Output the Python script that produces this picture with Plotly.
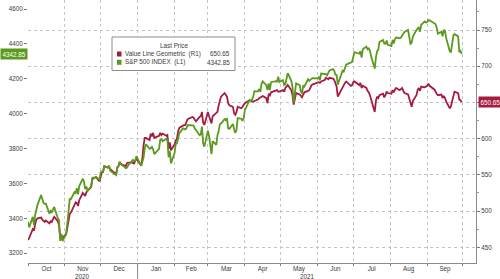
import pandas as pd
import plotly.graph_objects as go

# ---------------- data ----------------
holidays = ["2020-11-26", "2020-12-25", "2021-01-01", "2021-01-18", "2021-02-15",
            "2021-04-02", "2021-05-31", "2021-07-05", "2021-09-06"]
dates = [d for d in pd.bdate_range("2020-10-01", "2021-09-30")
         if d.strftime("%Y-%m-%d") not in holidays]

sp500 = [
    # Oct 2020
    3380.80, 3348.42, 3408.60, 3360.97, 3419.44, 3446.83, 3477.14, 3534.22, 3511.93, 3488.67, 3483.34,
    3483.81, 3426.92, 3443.12, 3435.56, 3453.49, 3465.39, 3400.97, 3390.68, 3271.03, 3310.11, 3269.96,
    # Nov
    3310.24, 3369.16, 3443.44, 3510.45, 3509.44, 3550.50, 3545.53, 3572.66, 3537.01, 3585.15,
    3626.91, 3609.53, 3567.79, 3581.87, 3557.54, 3577.59, 3635.41, 3629.65, 3638.35, 3621.63,
    # Dec
    3662.45, 3669.01, 3666.72, 3699.12, 3691.96, 3702.25, 3672.82, 3668.10, 3663.46, 3647.49, 3694.62,
    3701.17, 3722.48, 3709.41, 3694.92, 3687.26, 3690.01, 3703.06, 3735.36, 3727.04, 3732.04, 3756.07,
    # Jan 2021
    3700.65, 3726.86, 3748.14, 3803.79, 3824.68, 3799.61, 3801.19, 3809.84, 3795.54, 3768.25,
    3798.91, 3851.85, 3853.07, 3841.47, 3855.36, 3849.62, 3750.77, 3787.38, 3714.24,
    # Feb
    3773.86, 3826.31, 3830.17, 3871.74, 3886.83, 3915.59, 3911.23, 3909.88, 3916.38, 3934.83,
    3932.59, 3931.33, 3913.97, 3906.71, 3876.50, 3881.37, 3925.43, 3829.34, 3811.15,
    # Mar
    3901.82, 3870.29, 3819.72, 3768.47, 3841.94, 3821.35, 3875.44, 3898.81, 3939.34, 3943.34, 3968.94,
    3962.71, 3974.12, 3915.46, 3913.10, 3940.59, 3910.52, 3889.14, 3909.52, 3974.54, 3971.09, 3958.55,
    3972.89,
    # Apr
    4019.87, 4077.91, 4073.94, 4079.95, 4097.17, 4128.80, 4127.99, 4141.59, 4124.66, 4170.42, 4185.47,
    4163.26, 4134.94, 4173.42, 4134.98, 4180.17, 4187.62, 4186.72, 4183.18, 4211.47, 4181.17,
    # May
    4192.66, 4164.66, 4167.59, 4201.62, 4232.60, 4188.43, 4152.10, 4063.04, 4112.50, 4173.85,
    4163.29, 4127.83, 4115.68, 4159.12, 4155.86, 4197.05, 4188.13, 4195.99, 4200.88, 4204.11,
    # Jun
    4202.04, 4208.12, 4192.85, 4229.89, 4226.52, 4227.26, 4219.55, 4239.18, 4247.44, 4255.15, 4246.59,
    4223.70, 4221.86, 4166.45, 4224.79, 4246.44, 4241.84, 4266.49, 4280.70, 4290.61, 4291.80, 4297.50,
    # Jul
    4319.94, 4352.34, 4343.54, 4358.13, 4320.82, 4369.55, 4384.63, 4369.21, 4374.30, 4360.03, 4327.16,
    4258.49, 4323.06, 4358.69, 4367.48, 4411.79, 4422.30, 4401.46, 4400.64, 4419.15, 4395.26,
    # Aug
    4387.16, 4423.15, 4402.66, 4429.10, 4436.52, 4432.35, 4436.75, 4447.70, 4460.83, 4468.00, 4479.71,
    4448.08, 4400.27, 4405.80, 4441.67, 4479.53, 4486.23, 4496.19, 4470.00, 4509.37, 4528.79, 4522.68,
    # Sep
    4524.09, 4536.95, 4535.43, 4520.03, 4514.07, 4493.28, 4458.58, 4468.73, 4443.05, 4480.70, 4473.75,
    4432.99, 4357.73, 4354.19, 4395.64, 4448.98, 4455.48, 4443.11, 4352.63, 4359.46, 4342.85,
]

value_line = [
    # Oct 2020
    460, 463, 475, 473, 482, 488, 490, 491, 488, 486, 485, 487, 483, 486, 485, 489, 492, 486, 481, 464, 467, 463,
    # Nov
    468, 477, 486, 496, 498, 510, 512, 511, 507, 515, 525, 523, 521, 526, 528, 534, 544, 545, 547, 541,
    # Dec
    550, 554, 554, 562, 560, 561, 558, 557, 555, 551, 560, 562, 568, 565, 563, 562, 566, 567, 567, 565, 570, 572,
    # Jan 2021
    563, 573, 591, 601, 601, 598, 607, 603, 608, 601, 604, 608, 605, 607, 604, 605, 586, 595, 584,
    # Feb
    592, 597, 600, 610, 615, 618, 619, 619, 623, 627, 630, 629, 626, 624, 630, 631, 637, 622, 619,
    # Mar
    637, 631, 626, 621, 631, 635, 637, 646, 653, 658, 663, 660, 658, 649, 646, 644, 635, 633, 637, 644, 642, 644, 646,
    # Apr
    649, 653, 652, 651, 651, 652, 654, 656, 657, 658, 659, 656, 649, 662, 660, 664, 666, 667, 667, 665, 665,
    # May
    667, 665, 670, 672, 674, 667, 660, 647, 657, 663, 661, 659, 657, 661, 664, 666, 667, 670, 674, 675,
    # Jun
    677, 678, 677, 679, 681, 684, 683, 682, 684, 683, 681, 677, 672, 658, 668, 670, 673, 677, 679, 675, 673, 674,
    # Jul
    678, 679, 674, 677, 670, 673, 670, 666, 664, 660, 655, 637, 652, 658, 656, 660, 662, 657, 660, 665, 663,
    # Aug
    662, 667, 664, 668, 670, 667, 668, 670, 666, 663, 661, 655, 648, 644, 652, 660, 667, 670, 666, 672, 671, 672,
    # Sep
    673, 676, 673, 668, 664, 662, 660, 661, 656, 659, 656, 651, 642, 645, 652, 661, 665, 663, 654, 653, 650.65,
]

left_ticks = [3200, 3400, 3600, 3800, 4000, 4200, 4400, 4600]
right_ticks = [450, 500, 550, 600, 650, 700, 750]
right_tick_text = ["450", "500", "550", "600", "", "700", "750"]  # 650 is hidden by the last-price badge
series_names = ["Value Line Geometric  (R1)", "S&P 500 INDEX  (L1)"]
last_labels = ["650.65", "4342.85"]

assert len(dates) == len(sp500) == len(value_line)

# ---------------- style ----------------
GREEN = "#5b9a1e"
RED = "#a61c40"
FONT = "Liberation Sans, Arial, sans-serif"
TXT = "#3a3a3a"
GRID = "#c4c4c4"
W, H = 500, 279
ML, MR, MT, MB = 28, 24, 0, 16
PW, PH = W - ML - MR, H - MT - MB


def px(x):
    return (x - ML) / PW


def py(y):
    return 1 - (y - MT) / PH


fig = go.Figure()
fig.add_trace(go.Scatter(x=dates, y=value_line, mode="lines", yaxis="y",
                         line=dict(color=RED, width=1.8), name=series_names[0]))
fig.add_trace(go.Scatter(x=dates, y=sp500, mode="lines", yaxis="y2",
                         line=dict(color=GREEN, width=1.8), name=series_names[1]))

fig.update_layout(
    width=W, height=H,
    margin=dict(l=ML, r=MR, t=MT, b=MB, pad=0),
    paper_bgcolor="white", plot_bgcolor="white",
    showlegend=False, hovermode=False,
    font=dict(family=FONT, size=6.3, color=TXT),
    xaxis=dict(
        type="date", range=["2020-10-01", "2021-10-12"],
        tick0="2020-10-01", dtick="M1", tickformat="%b", ticklabelmode="period",
        showgrid=True, gridcolor=GRID, griddash="dot", gridwidth=1,
        ticks="outside", ticklen=2, tickcolor="#777", ticklabelstandoff=-3,
        showline=True, linecolor="#8a8a8a", linewidth=1,
        tickfont=dict(size=6.3, color=TXT), zeroline=False,
    ),
    yaxis=dict(
        side="right", range=[428.3, 791.5], tickvals=right_ticks, ticktext=right_tick_text,
        showgrid=True, gridcolor=GRID, griddash="dot", gridwidth=1,
        ticks="outside", ticklen=3, tickcolor="#777",
        minor=dict(dtick=25, tick0=0, ticks="outside", ticklen=2, tickcolor="#999", showgrid=False),
        showline=True, linecolor="#8a8a8a", linewidth=1,
        tickfont=dict(size=6.3, color=TXT), zeroline=False,
    ),
    yaxis2=dict(
        overlaying="y", side="left", range=[3144, 4651.6], tickvals=left_ticks,
        showgrid=False, ticks="outside", ticklen=3, tickcolor="#777",
        showline=False, tickfont=dict(size=6.3, color=TXT), zeroline=False,
    ),
)

shapes = [
    # legend box
    dict(type="rect", xref="paper", yref="paper", x0=px(112), x1=px(235), y0=py(70.5), y1=py(37),
         line=dict(color="#8c8c8c", width=1), fillcolor="white", layer="above"),
    # legend swatches
    dict(type="rect", xref="paper", yref="paper", x0=px(117), x1=px(121.5), y0=py(56.5), y1=py(51.5),
         line=dict(width=0), fillcolor=RED, layer="above"),
    dict(type="rect", xref="paper", yref="paper", x0=px(117), x1=px(121.5), y0=py(64.8), y1=py(59.8),
         line=dict(width=0), fillcolor=GREEN, layer="above"),
    # year separator below axis
    dict(type="line", xref="x", yref="paper", x0="2021-01-01", x1="2021-01-01", y0=0, y1=py(279),
         line=dict(color="#8a8a8a", width=1)),
]
fig.update_layout(shapes=shapes)

ann = [
    dict(text="Last Price", x=px(173.5), y=py(45.7), xanchor="center", yanchor="middle"),
    dict(text=series_names[0], x=px(123), y=py(54), xanchor="left", yanchor="middle"),
    dict(text=last_labels[0], x=px(232), y=py(54), xanchor="right", yanchor="middle"),
    dict(text=series_names[1], x=px(123), y=py(62.3), xanchor="left", yanchor="middle"),
    dict(text=last_labels[1], x=px(232), y=py(62.3), xanchor="right", yanchor="middle"),
    dict(text="2020", x=px(82), y=py(276), xanchor="center", yanchor="middle"),
    dict(text="2021", x=px(307), y=py(276), xanchor="center", yanchor="middle"),
]
for a in ann:
    fig.add_annotation(xref="paper", yref="paper", showarrow=False,
                       font=dict(family=FONT, size=6.3, color=TXT), **a)

# last-value badges
fig.add_annotation(xref="paper", yref="y2", x=0, y=sp500[-1], xanchor="right", yanchor="middle",
                   text=last_labels[1], showarrow=False, bgcolor=GREEN, borderpad=1.5,
                   font=dict(family=FONT, size=6.3, color="white"))
fig.add_annotation(xref="paper", yref="y", x=1, y=value_line[-1], xanchor="left", yanchor="middle",
                   text=last_labels[0], showarrow=False, bgcolor=RED, borderpad=1.5, xshift=2,
                   font=dict(family=FONT, size=6.3, color="white"))

fig.write_html("out.html")
